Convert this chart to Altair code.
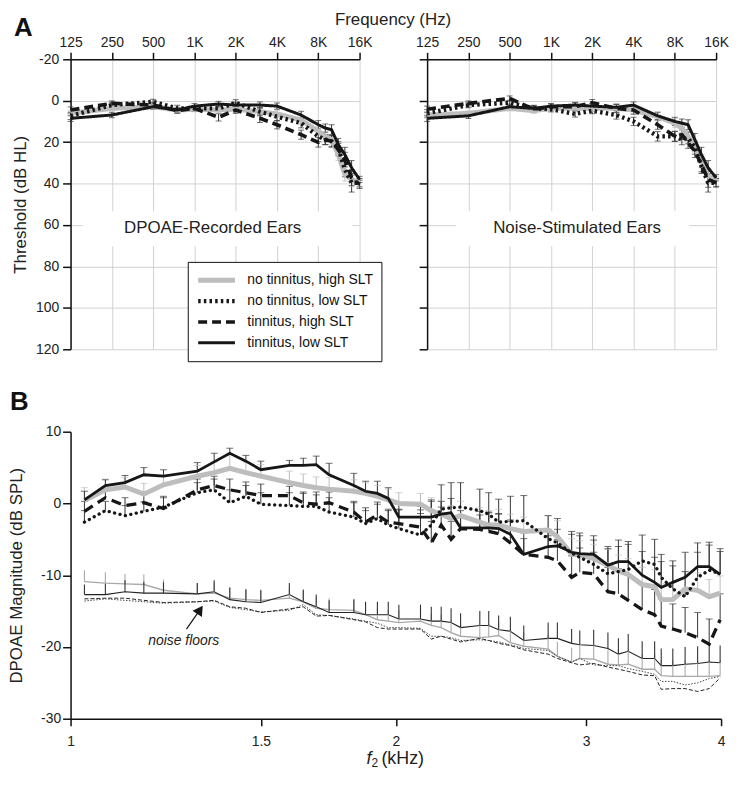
import altair as alt
import pandas as pd

FONT = "Liberation Sans"
GRAY = "#bdbdbd"
INK = "#161616"
BAR = "#333333"

GROUPS = ["no tinnitus, high SLT", "no tinnitus, low SLT", "tinnitus, high SLT", "tinnitus, low SLT"]

# ---------------- Panel A: audiograms ----------------
AUD_TICKS = [125, 250, 500, 1000, 2000, 4000, 8000, 16000]
DB_TICKS = [-20, 0, 20, 40, 60, 80, 100, 120]
AUD_FREQ = [125, 250, 500, 750, 1000, 1500, 2000, 3000, 4000, 6000, 8000, 9000, 10000, 11200, 12500, 14000, 16000]

# DPOAE-recorded ears
REC_NH = [6.1, 3.7, 2.9, 4.5, 4.1, 4.5, 4.1, 5.3, 6.4, 9.3, 14.8, 17.2, 18.8, 26.0, 35.6, 38.0, 39.6]
REC_NL = [7.3, 2.1, 0.5, 3.7, 3.7, 3.7, 1.0, 5.3, 7.7, 10.8, 17.2, 18.8, 19.6, 22.8, 33.2, 39.6, 39.6]
REC_TH = [4.5, 1.3, 2.1, 4.8, 3.7, 8.0, 4.5, 8.5, 11.6, 16.4, 20.1, 18.8, 19.6, 23.6, 28.4, 37.2, 40.4]
REC_TL = [8.5, 6.9, 2.9, 4.5, 2.6, 1.6, 2.1, 2.1, 2.6, 6.9, 11.6, 13.2, 14.0, 21.2, 26.0, 32.4, 38.0]

# Noise-stimulated ears
STIM_NH = [6.9, 6.1, 3.7, 4.8, 3.7, 3.7, 3.7, 3.7, 4.5, 7.7, 10.8, 13.2, 17.2, 22.0, 29.2, 36.4, 38.8]
STIM_NL = [6.1, 2.1, 1.0, 3.7, 4.1, 6.4, 4.8, 6.9, 10.0, 17.2, 17.2, 18.8, 18.0, 22.8, 31.6, 39.6, 39.6]
STIM_TH = [4.1, 1.3, -1.1, 4.1, 2.9, 2.9, 1.0, 3.7, 4.5, 11.6, 17.2, 16.4, 20.4, 24.4, 30.8, 38.0, 39.6]
STIM_TL = [8.5, 7.3, 2.9, 3.7, 2.6, 2.1, 2.6, 3.2, 2.1, 7.3, 10.0, 10.8, 11.6, 18.8, 26.0, 32.4, 37.2]

SE_A_NH = [1.5, 1.2, 1.2, 1.3, 1.2, 1.5, 1.5, 1.8, 1.8, 2.0, 2.2, 2.2, 2.5, 2.8, 3.2, 3.5, 2.0]
SE_A_NL = [1.8, 1.3, 1.2, 1.5, 1.3, 1.5, 1.5, 2.0, 2.0, 2.3, 2.5, 2.5, 2.8, 3.0, 3.5, 4.5, 2.0]
SE_A_TH = [1.5, 1.2, 1.2, 1.3, 1.3, 1.8, 1.6, 2.0, 2.0, 2.2, 2.3, 2.3, 2.6, 3.0, 3.5, 3.8, 2.0]
SE_A_TL = [1.5, 1.3, 1.2, 1.3, 1.2, 1.3, 1.3, 1.5, 1.5, 1.8, 2.0, 2.0, 2.4, 3.0, 3.5, 3.5, 1.5]

# ---------------- Panel B: DPOAE magnitude ----------------
F2_TICKS = [1, 1.5, 2, 3, 4]
B_TICKS = [10, 0, -10, -20, -30]
F2 = [1.030, 1.077, 1.123, 1.169, 1.219, 1.310, 1.358, 1.404, 1.453, 1.500, 1.594, 1.642,
      1.688, 1.735, 1.829, 1.875, 1.923, 1.968, 2.013, 2.108, 2.157, 2.203, 2.250, 2.296,
      2.392, 2.438, 2.490, 2.553, 2.627, 2.767, 2.822, 2.909, 2.960, 3.049, 3.143, 3.214,
      3.282, 3.381, 3.472, 3.521, 3.609, 3.705, 3.805, 3.900, 3.992]

DP_NH = [0.4, 1.9, 2.3, 1.3, 2.6, 3.8, 4.3, 4.9, 4.3, 3.8, 2.9, 2.5, 2.2, 2.0, 1.7, 1.4, 1.0, 0.5,
         0.0, -0.1, -1.0, -1.5, -2.1, -1.7, -2.6, -3.0, -3.0, -3.5, -3.9, -3.7, -4.6, -7.1, -7.2,
         -7.7, -8.6, -9.4, -9.9, -11.3, -11.6, -13.4, -13.4, -11.9, -12.1, -13.0, -12.5]
DP_NL = [-2.6, -1.0, -1.7, -1.1, -0.5, 1.5, 1.9, 0.1, 1.0, -0.1, -0.3, -0.4, -0.4, -1.2, -1.9, -2.8, -2.1, -3.0,
         -3.5, -4.4, -3.0, -0.8, -0.6, -0.5, -1.0, -1.5, -2.6, -2.5, -2.4, -4.9, -5.5, -6.9, -7.5,
         -8.5, -9.8, -9.5, -9.2, -8.0, -8.5, -10.3, -11.9, -13.0, -10.3, -9.3, -9.8]
DP_TH = [-1.1, 0.8, -0.3, 0.1, -0.7, 1.9, 2.5, 1.9, 1.5, 1.1, 1.1, 0.1, -0.1, 0.1, -1.2, -2.6, -1.6, -2.6,
         -2.8, -3.3, -5.5, -3.0, -5.0, -3.5, -3.6, -3.9, -4.2, -5.5, -7.1, -7.5, -8.0, -10.3, -9.6,
         -9.8, -12.3, -12.6, -13.5, -14.8, -15.5, -17.1, -17.5, -18.0, -18.7, -19.6, -16.2]
DP_TL = [0.5, 2.5, 2.9, 4.0, 3.8, 4.5, 5.8, 7.0, 5.9, 4.7, 5.3, 5.3, 5.4, 4.0, 2.5, 1.7, 1.4, 0.7,
         -1.9, -1.9, -1.9, -1.5, -1.3, -3.4, -3.4, -3.4, -3.5, -4.3, -7.1, -6.0, -5.9, -6.8, -7.0,
         -7.1, -8.6, -8.1, -8.1, -10.0, -11.0, -11.7, -11.0, -10.3, -8.8, -8.8, -9.9]

SE_DP_NH = [1.8, 1.5, 1.3, 1.5, 1.4, 1.5, 1.5, 2.0, 1.5, 1.6, 1.6, 1.6, 1.5, 1.6, 1.6, 1.5, 1.5, 1.5,
            1.5, 1.5, 1.8, 1.8, 1.8, 2.0, 2.0, 2.0, 2.2, 2.0, 2.0, 2.0, 2.2, 2.2, 2.0, 2.0, 2.2, 2.2,
            2.2, 2.4, 2.4, 2.2, 2.4, 2.4, 2.4, 2.4, 2.4]
SE_DP_NL = [1.6, 1.3, 1.4, 1.3, 1.5, 1.4, 1.5, 1.8, 1.5, 1.6, 1.8, 2.0, 2.0, 2.0, 2.0, 2.2, 2.0, 2.0,
            2.6, 3.0, 3.5, 3.4, 3.5, 3.4, 3.0, 3.0, 3.2, 3.5, 3.5, 3.2, 3.4, 3.0, 3.4, 3.4, 3.5, 3.5,
            3.5, 3.6, 3.5, 3.2, 3.2, 3.5, 3.5, 3.5, 3.5]
SE_DP_TH = [1.4, 1.0, 1.1, 1.5, 1.5, 1.5, 1.3, 1.5, 1.5, 1.6, 1.3, 1.3, 1.3, 1.5, 1.5, 1.6, 1.8, 1.8,
            2.0, 2.4, 3.0, 2.5, 2.5, 2.5, 2.5, 2.6, 2.8, 3.0, 3.0, 3.0, 3.0, 3.0, 3.4, 3.0, 3.4, 3.5,
            3.5, 3.5, 3.5, 3.8, 3.5, 3.5, 3.5, 3.5, 3.6]
SE_DP_TL = [1.2, 0.8, 1.0, 1.0, 0.9, 1.2, 1.2, 0.7, 0.8, 1.2, 0.7, 1.0, 1.2, 1.6, 1.7, 1.4, 1.7, 1.5,
            2.0, 1.5, 2.2, 1.8, 2.0, 1.5, 1.8, 2.2, 2.0, 2.0, 2.2, 2.4, 2.3, 2.5, 2.5, 2.6, 2.6, 3.0,
            2.8, 3.3, 3.5, 3.6, 3.0, 3.5, 3.3, 3.4, 3.2]

# noise floors
NF_NH = [-10.9, -11.1, -11.2, -11.3, -12.1, -12.6, -12.5, -13.2, -13.4, -13.5, -13.2, -13.7, -14.6, -14.8,
         -14.9, -15.5, -16.2, -16.4, -16.6, -16.4, -17.0, -17.3, -18.0, -18.5, -18.7, -18.6, -18.4, -19.4,
         -19.9, -20.3, -21.3, -22.1, -21.6, -21.7, -22.4, -22.5, -22.4, -23.1, -23.1, -24.0, -24.1, -24.1,
         -24.1, -24.1, -24.0]
NF_NL = [-13.6, -13.3, -13.5, -13.7, -13.9, -13.7, -13.6, -14.5, -14.8, -15.1, -14.9, -14.1, -15.5, -15.6,
         -16.1, -16.4, -16.7, -17.3, -17.3, -17.4, -18.5, -18.5, -18.7, -19.1, -19.0, -19.1, -19.3, -19.7,
         -20.2, -20.5, -21.3, -22.1, -21.6, -22.5, -22.6, -22.6, -23.0, -23.4, -23.8, -24.8, -24.8, -25.3,
         -25.0, -24.4, -24.1]
NF_TH = [-13.3, -13.2, -13.2, -13.5, -13.8, -13.7, -13.5, -14.4, -14.6, -15.2, -14.7, -14.4, -15.7, -15.6,
         -16.2, -16.5, -17.3, -17.5, -17.5, -17.5, -18.9, -18.5, -18.9, -19.3, -18.8, -19.1, -19.5, -19.8,
         -20.4, -21.0, -21.6, -22.2, -22.5, -22.3, -22.8, -23.1, -23.4, -23.9, -24.0, -25.9, -25.8, -25.8,
         -26.2, -25.8, -24.3]
NF_TL = [-12.7, -12.7, -12.3, -12.5, -12.5, -12.6, -12.3, -13.4, -13.7, -13.8, -12.7, -13.7, -14.4, -15.2,
         -15.2, -15.5, -15.5, -15.5, -16.1, -16.1, -16.4, -16.4, -16.6, -17.3, -17.0, -17.0, -17.6, -17.8,
         -19.1, -18.8, -18.8, -19.5, -19.7, -19.8, -20.2, -21.0, -20.6, -21.6, -21.6, -22.6, -22.6, -22.4,
         -22.3, -22.1, -22.2]
SE_NF_NH = [1.6, 1.5, 1.4, 1.4, 1.5, 1.5, 1.5, 1.5, 1.5, 1.5, 1.5, 1.5, 1.5, 1.6, 1.6, 1.6, 1.6, 1.6,
            1.7, 1.7, 1.7, 1.8, 1.8, 1.8, 1.8, 1.8, 1.9, 1.9, 1.9, 2.0, 2.0, 2.0, 2.0, 2.0, 2.0, 2.1,
            2.1, 2.1, 2.1, 2.2, 2.2, 2.2, 2.2, 2.2, 2.2]
SE_NF_TL = [1.4, 1.5, 1.6, 1.6, 1.5, 1.5, 1.6, 1.7, 1.7, 1.7, 1.6, 1.7, 1.7, 1.7, 1.8, 1.8, 1.8, 1.8,
            2.0, 2.0, 2.0, 2.0, 2.0, 2.0, 2.0, 2.0, 2.0, 2.0, 2.1, 2.2, 2.2, 2.0, 2.0, 2.2, 2.2, 2.2,
            2.4, 2.4, 2.4, 2.4, 2.4, 2.4, 2.4, 2.4, 2.4]


def long_table(freqs, series, errors):
    rows = []
    for g, vals, errs in zip(GROUPS, series, errors):
        for i, (f, v) in enumerate(zip(freqs, vals)):
            rows.append({"f": f, "v": v, "se": errs[i] if errs is not None else 0.0, "g": g})
    return pd.DataFrame(rows)


rec_df = long_table(AUD_FREQ, [REC_NH, REC_NL, REC_TH, REC_TL], [SE_A_NH, SE_A_NL, SE_A_TH, SE_A_TL])
stim_df = long_table(AUD_FREQ, [STIM_NH, STIM_NL, STIM_TH, STIM_TL], [SE_A_NH, SE_A_NL, SE_A_TH, SE_A_TL])
dp_df = long_table(F2, [DP_NH, DP_NL, DP_TH, DP_TL], [SE_DP_NH, SE_DP_NL, SE_DP_TH, SE_DP_TL])
nf_df = long_table(F2, [NF_NH, NF_NL, NF_TH, NF_TL], [SE_NF_NH, None, None, SE_NF_TL])

color_scale = alt.Scale(domain=GROUPS, range=[GRAY, INK, INK, INK])
dash_scale = alt.Scale(domain=GROUPS, range=[[1, 0], [2.5, 3.2], [9, 5], [1, 0]])
width_scale = alt.Scale(domain=GROUPS, range=[5, 3, 3, 2.6])

bar_color = alt.condition(alt.datum.g == GROUPS[0], alt.value(GRAY), alt.value(BAR))
HYPHEN = "toString(datum.value)"
AW = 291  # audiogram panel width
AH = 292  # audiogram panel height
BW = 655
BH = 289
KB = BH / 294.0  # vertical factor for panel-B annotations


def audiogram(df, label, label_x, box, first):
    xs = alt.Scale(type="log", domain=[125, 16000], nice=False)
    ys = alt.Scale(domain=[-20, 120], reverse=True, nice=False)
    xax = alt.Axis(orient="top", values=AUD_TICKS, grid=True, title=None, labelPadding=3, labelFlush=False,
                   labelExpr="datum.value >= 1000 ? format(datum.value / 1000, 'd') + 'K' : format(datum.value, 'd')")
    if first:
        yax = alt.Axis(values=DB_TICKS, grid=True, title="Threshold (dB HL)", titleX=-50, titleY=AH / 2,
                       titleBaseline="middle", titleAngle=-90, labelPadding=4, tickSize=8,
                       labelFlush=False, labelExpr=HYPHEN)
    else:
        yax = alt.Axis(values=DB_TICKS, grid=True, title=None, labels=False, tickSize=8)
    x = alt.X("f:Q", scale=xs, axis=xax)

    def yy(field):
        return alt.Y(field, type="quantitative", scale=ys, axis=yax)

    base = alt.Chart(df).transform_calculate(lo="datum.v - datum.se", hi="datum.v + datum.se")
    bars = base.mark_rule(strokeWidth=1).encode(x=x, y=yy("lo"), y2="hi:Q", color=bar_color)
    cap_lo = base.mark_tick(orient="horizontal", size=6, thickness=1).encode(x=x, y=yy("lo"), color=bar_color)
    cap_hi = base.mark_tick(orient="horizontal", size=6, thickness=1).encode(x=x, y=yy("hi"), color=bar_color)

    if first:
        leg = alt.Legend(title=None, orient="none", legendX=118, legendY=204, symbolType="stroke",
                         symbolSize=1369, clipHeight=21, rowPadding=0, padding=8, labelOffset=10,
                         labelFont=FONT, labelFontSize=14, labelColor="#111", strokeColor="#111",
                         fillColor="white", labelLimit=300)
        lines = alt.Chart(df).mark_line(strokeCap="butt", strokeJoin="round").encode(
            x=x, y=yy("v"),
            color=alt.Color("g:N", scale=color_scale, legend=leg),
            strokeDash=alt.StrokeDash("g:N", scale=dash_scale, legend=leg),
            strokeWidth=alt.StrokeWidth("g:N", scale=width_scale, legend=leg),
        )
    else:
        lines = alt.Chart(df).mark_line(strokeCap="butt", strokeJoin="round").encode(
            x=x, y=yy("v"),
            color=alt.Color("g:N", scale=color_scale, legend=None),
            strokeDash=alt.StrokeDash("g:N", scale=dash_scale, legend=None),
            strokeWidth=alt.StrokeWidth("g:N", scale=width_scale, legend=None),
        )

    tdf = pd.DataFrame({"t": [label]})
    white = alt.Chart(tdf).mark_rect(color="white").encode(
        x=alt.value(box[0]), x2=alt.value(box[1]), y=alt.value(153), y2=alt.value(188))
    ttl = alt.Chart(tdf).mark_text(font=FONT, fontSize=17, color="#222", baseline="alphabetic").encode(
        text="t:N", x=alt.value(label_x), y=alt.value(175))
    layers = [bars, cap_lo, cap_hi, lines, white, ttl]
    if first:
        adf = pd.DataFrame({"t": ["A"]})
        layers.append(alt.Chart(adf).mark_text(font=FONT, fontSize=26, fontWeight="bold", color="#111",
                                               align="left", baseline="alphabetic").encode(
            text="t:N", x=alt.value(-57), y=alt.value(-23)))
    return alt.layer(*layers).properties(width=AW, height=AH)


a_left = audiogram(rec_df, "DPOAE-Recorded Ears", 143, (12, 284), True)
a_right = audiogram(stim_df, "Noise-Stimulated Ears", 151, (29, 264), False)

row_a = alt.hconcat(
    a_left, a_right, spacing=33,
    title=alt.TitleParams("Frequency (Hz)", anchor="middle", dx=23, offset=-13, fontSize=17,
                          font=FONT, fontWeight="normal", color="#222"),
).resolve_scale(color="independent", strokeDash="independent", strokeWidth="independent")

# ---------------- Panel B chart ----------------
xB = alt.X("f:Q", scale=alt.Scale(type="log", domain=[1, 4], nice=False),
           axis=alt.Axis(values=F2_TICKS, format="~g", title=None, grid=False, labelPadding=9, labelFlush=False))
yB_axis = alt.Axis(values=B_TICKS, grid=False, title="DPOAE Magnitude (dB SPL)", titleX=-54, titleY=BH / 2,
                   titleBaseline="middle", titleAngle=-90, labelPadding=2, tickSize=8,
                   labelFlush=False, labelExpr=HYPHEN)
yB_scale = alt.Scale(domain=[-30, 10], nice=False)


def yB(field):
    return alt.Y(field, type="quantitative", scale=yB_scale, axis=yB_axis)


NF_STYLE = {
    GROUPS[0]: dict(color="#a9a9a9", strokeWidth=1.4),
    GROUPS[1]: dict(color="#333333", strokeWidth=0.9, strokeDash=[1.5, 1.5]),
    GROUPS[2]: dict(color="#222222", strokeWidth=1.0, strokeDash=[4, 2]),
    GROUPS[3]: dict(color="#222222", strokeWidth=1.1),
}
DP_STYLE = {
    GROUPS[0]: dict(color=GRAY, strokeWidth=5),
    GROUPS[1]: dict(color=INK, strokeWidth=3.3, strokeDash=[0.1, 5.5], strokeCap="round"),
    GROUPS[2]: dict(color=INK, strokeWidth=3.3, strokeDash=[10, 6]),
    GROUPS[3]: dict(color=INK, strokeWidth=2.8),
}

b_layers = []
nf_base = alt.Chart(nf_df)
for g in GROUPS:
    b_layers.append(nf_base.transform_filter(alt.datum.g == g).mark_line(**NF_STYLE[g]).encode(x=xB, y=yB("v")))
b_layers.append(
    nf_base.transform_filter(alt.FieldOneOfPredicate(field="g", oneOf=[GROUPS[0], GROUPS[3]]))
    .transform_calculate(hi="datum.v + datum.se")
    .mark_rule(strokeWidth=1.1).encode(x=xB, y=yB("v"), y2="hi:Q",
                                       color=alt.condition(alt.datum.g == GROUPS[0], alt.value("#a9a9a9"), alt.value(BAR)))
)
dp_base = alt.Chart(dp_df).transform_calculate(hi="datum.v + datum.se")
b_layers.append(dp_base.mark_rule(strokeWidth=1).encode(x=xB, y=yB("v"), y2="hi:Q", color=bar_color))
b_layers.append(dp_base.mark_tick(orient="horizontal", size=7, thickness=1).encode(x=xB, y=yB("hi"), color=bar_color))
for g in GROUPS:
    b_layers.append(alt.Chart(dp_df).transform_filter(alt.datum.g == g).mark_line(**DP_STYLE[g]).encode(x=xB, y=yB("v")))

one = pd.DataFrame({"t": ["B"]})
b_layers.append(alt.Chart(one).mark_text(font=FONT, fontSize=26, fontWeight="bold", color="#111",
                                         align="left", baseline="alphabetic").encode(
    text="t:N", x=alt.value(-61), y=alt.value(-22)))
nf_lbl = pd.DataFrame({"t": ["noise floors"]})
b_layers.append(alt.Chart(nf_lbl).mark_text(font=FONT, fontSize=14, fontStyle="italic", color="#222",
                                            baseline="alphabetic").encode(
    text="t:N", x=alt.value(114), y=alt.value(218 * KB)))
b_layers.append(alt.Chart(nf_lbl).mark_rule(color=INK, strokeWidth=1.2).encode(
    x=alt.value(116.7), y=alt.value(202.3 * KB), x2=alt.value(129.5), y2=alt.value(183.5 * KB)))
b_layers.append(alt.Chart(nf_lbl).mark_point(shape="triangle-up", filled=True, size=130, angle=34,
                                             color=INK, opacity=1).encode(
    x=alt.value(130.3), y=alt.value(182.4 * KB)))
f_lbl = pd.DataFrame({"t": ["f"]})
b_layers.append(alt.Chart(f_lbl).mark_text(font=FONT, fontSize=18, fontStyle="italic", color="#222",
                                           align="right", baseline="alphabetic").encode(
    text="t:N", x=alt.value(303), y=alt.value(BH + 46)))
s_lbl = pd.DataFrame({"t": ["2"]})
b_layers.append(alt.Chart(s_lbl).mark_text(font=FONT, fontSize=12, color="#222",
                                           align="left", baseline="alphabetic").encode(
    text="t:N", x=alt.value(303), y=alt.value(BH + 49)))
k_lbl = pd.DataFrame({"t": ["(kHz)"]})
b_layers.append(alt.Chart(k_lbl).mark_text(font=FONT, fontSize=18, color="#222",
                                           align="left", baseline="alphabetic").encode(
    text="t:N", x=alt.value(313), y=alt.value(BH + 46)))

panel_b = alt.layer(*b_layers).properties(width=BW, height=BH)

chart = alt.vconcat(row_a, panel_b, spacing=27).resolve_scale(
    color="independent", strokeDash="independent", strokeWidth="independent"
).properties(padding=0, background="white").configure(font=FONT).configure_axis(
    labelFont=FONT, labelFontSize=14, labelColor="#222", titleFont=FONT, titleFontSize=17,
    titleColor="#222", titleFontWeight="normal", domainColor="#111", domainWidth=1.5,
    tickColor="#111", tickWidth=1.5, tickSize=7, gridColor="#d2d2d2", gridWidth=1,
).configure_view(stroke=None)

chart.save("out.html", embed_options={"renderer": "svg", "actions": False})
